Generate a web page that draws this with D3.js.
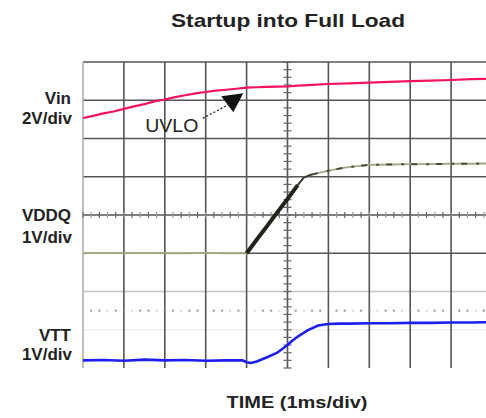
<!DOCTYPE html>
<html>
<head>
<meta charset="utf-8">
<script src="https://cdn.jsdelivr.net/npm/d3@7"></script>
<style>
  html, body { margin: 0; padding: 0; background: #fff; }
  svg { display: block; }
  text { font-family: "Liberation Sans", Arial, sans-serif; }
</style>
</head>
<body>
<div id="chart"></div>
<script>
// Time axis: 10 divisions, 1 ms/div
const timeDivs = 10;
const vertDivs = 8;

// Vin trace (V), 2 V/div
const vinTime = [0, 0.25, 0.5, 0.75, 1.0, 1.25, 1.5, 1.75, 2.0, 2.25, 2.5, 2.75, 3.0, 3.25, 3.5, 3.75, 4.0, 4.25, 4.5, 4.75, 5.0, 5.25, 5.5, 6.0, 6.5, 7.0, 7.5, 8.0, 8.5, 9.0, 9.5, 10.0];
const vinVolts = [9.07, 9.18, 9.31, 9.41, 9.55, 9.68, 9.8, 9.94, 10.04, 10.16, 10.26, 10.36, 10.43, 10.5, 10.55, 10.6, 10.66, 10.68, 10.7, 10.71, 10.72, 10.76, 10.79, 10.85, 10.88, 10.92, 10.96, 11.0, 11.03, 11.06, 11.1, 11.12];

// VDDQ trace (V), 1 V/div
const vddqTime = [0, 0.5, 1.0, 1.5, 2.0, 2.5, 3.0, 3.5, 4.0, 4.25, 4.5, 4.75, 5.0, 5.25, 5.4, 5.6, 5.85, 6.1, 6.4, 6.7, 7.0, 7.5, 8.0, 8.5, 9.0, 9.5, 10.0];
const vddqVolts = [0.0, 0.01, 0.0, 0.01, 0.0, 0.0, 0.01, 0.0, 0.0, 0.36, 0.71, 1.07, 1.42, 1.78, 1.98, 2.06, 2.12, 2.18, 2.24, 2.28, 2.31, 2.32, 2.33, 2.33, 2.34, 2.34, 2.35];

// VTT trace (V), 1 V/div
const vttTime = [0, 0.5, 1.0, 1.5, 2.0, 2.5, 3.0, 3.5, 3.9, 4.0, 4.1, 4.25, 4.5, 4.75, 5.0, 5.1, 5.25, 5.5, 5.75, 6.0, 6.25, 6.5, 7.0, 7.5, 8.0, 8.5, 9.0, 9.5, 10.0];
const vttVolts = [0.0, 0.01, -0.01, 0.02, 0.0, 0.01, -0.01, 0.0, 0.0, -0.05, -0.07, -0.03, 0.08, 0.2, 0.4, 0.5, 0.62, 0.79, 0.91, 0.95, 0.96, 0.96, 0.97, 0.97, 0.98, 0.98, 0.99, 0.99, 1.0];

// UVLO threshold crossing time (ms)
const uvloTime = 3.65;

// Channel labels
const channelNames = ["Vin", "VDDQ", "VTT"];
const channelScales = ["2V/div", "1V/div", "1V/div"];
const titleText = "Startup into Full Load";
const xAxisText = "TIME (1ms/div)";

// Channel settings: volts per division and ground level (in divisions from bottom)
const vinCh = { vPerDiv: 2, ground: 2 };
const vddqCh = { vPerDiv: 1, ground: 3 };
const vttCh = { vPerDiv: 1, ground: 0.2 };

const W = 486, H = 418;
const svg = d3.select("#chart").append("svg").attr("width", W).attr("height", H);

const x = d3.scaleLinear().domain([0, timeDivs]).range([83, 492]);
const yDiv = d3.scaleLinear().domain([0, vertDivs]).range([368, 62]);
const chY = ch => v => yDiv(ch.ground + v / ch.vPerDiv);

const plotRight = W;

// Grid
const grid = svg.append("g");
// horizontal division lines
const hLines = [
  { d: 8, c: "#555" }, { d: 7, c: "#555" }, { d: 6, c: "#555" }, { d: 5, c: "#555" },
  { d: 4, c: "#555" }, { d: 3, c: "#555" }, { d: 2, c: "#c4c4c4" }, { d: 1, c: "#eeeeee" }
];
grid.selectAll("line.h").data(hLines).join("line")
  .attr("x1", x(0)).attr("x2", plotRight)
  .attr("y1", d => yDiv(d.d)).attr("y2", d => yDiv(d.d))
  .attr("stroke", d => d.c).attr("stroke-width", 1.6);
// vertical division lines
grid.selectAll("line.v").data(d3.range(0, timeDivs + 1)).join("line")
  .attr("x1", d => x(d)).attr("x2", d => x(d))
  .attr("y1", yDiv(8)).attr("y2", yDiv(0))
  .attr("stroke", d => d === 0 ? "#b0b0b0" : "#555").attr("stroke-width", 1.6);

// minor ticks on centre vertical line
const minorV = d3.range(0, vertDivs * 5 + 1).map(i => i / 5);
grid.selectAll("line.mv").data(minorV).join("line")
  .attr("x1", x(5) - 4).attr("x2", x(5) + 4)
  .attr("y1", d => yDiv(d)).attr("y2", d => yDiv(d))
  .attr("stroke", "#666").attr("stroke-width", 1.2);
// minor ticks on centre horizontal line
const minorH = d3.range(0, timeDivs * 5 + 1).map(i => i / 5);
grid.selectAll("line.mh").data(minorH).join("line")
  .attr("x1", d => x(d)).attr("x2", d => x(d))
  .attr("y1", yDiv(4) - 3).attr("y2", yDiv(4) + 3)
  .attr("stroke", (d, i) => i % 2 ? "#999" : "#666").attr("stroke-width", 1.2);
// dotted reference row
grid.selectAll("circle.dot").data(minorH.filter(d => d > 0 && d < 9.9)).join("circle")
  .attr("cx", d => x(d)).attr("cy", yDiv(1.5)).attr("r", 1.2)
  .attr("fill", "#888").attr("opacity", (d, i) => (i % 3 === 2) ? 0.3 : 0.8);

const line = ch => d3.line().x(d => x(d[0])).y(d => chY(ch)(d[1]));

// Vin
const vinData = d3.zip(vinTime, vinVolts);
svg.append("path").datum(vinData)
  .attr("d", line(vinCh))
  .attr("fill", "none").attr("stroke", "#f5135c").attr("stroke-width", 2.2);

// VDDQ
const vddqData = d3.zip(vddqTime, vddqVolts);
svg.append("path").datum(vddqData)
  .attr("d", line(vddqCh))
  .attr("fill", "none").attr("stroke", "#a7a686").attr("stroke-width", 1.8);
svg.append("path").datum(vddqData.filter(d => d[0] >= 4 && d[0] <= 5.25))
  .attr("d", line(vddqCh))
  .attr("fill", "none").attr("stroke", "#23231a").attr("stroke-width", 4);
svg.append("path").datum(vddqData.filter(d => d[0] >= 5.25 && d[0] <= 5.6))
  .attr("d", line(vddqCh))
  .attr("fill", "none").attr("stroke", "#33332a").attr("stroke-width", 1.8);
svg.append("path").datum(vddqData.filter(d => d[0] >= 5.6))
  .attr("d", line(vddqCh))
  .attr("fill", "none").attr("stroke", "#4a4a38").attr("stroke-width", 2)
  .attr("stroke-dasharray", "6 9 3 7");

// VTT
const vttData = d3.zip(vttTime, vttVolts);
svg.append("path").datum(vttData)
  .attr("d", line(vttCh))
  .attr("fill", "none").attr("stroke", "#1e1ef2").attr("stroke-width", 2.6);

// UVLO marker
const uvloV = d3.scaleLinear().domain(vinTime).range(vinVolts)(uvloTime);
const ux = x(uvloTime), uy = chY(vinCh)(uvloV);
svg.append("path")
  .attr("d", `M${ux - 11},${uy + 7} L${ux + 11},${uy + 4} L${ux + 1},${uy + 23} Z`)
  .attr("fill", "#111");
svg.append("line")
  .attr("x1", ux - 3).attr("y1", uy + 15).attr("x2", ux - 31).attr("y2", uy + 30)
  .attr("stroke", "#222").attr("stroke-width", 1.3).attr("stroke-dasharray", "2 2");
svg.append("text").attr("x", ux - 87).attr("y", uy + 43)
  .attr("font-size", 18).attr("fill", "#222")
  .attr("textLength", 53).attr("lengthAdjust", "spacingAndGlyphs")
  .text("UVLO");

// Title and axis label
svg.append("text").attr("x", 288).attr("y", 27).attr("text-anchor", "middle")
  .attr("font-size", 19).attr("font-weight", "bold").attr("fill", "#222")
  .attr("textLength", 234).attr("lengthAdjust", "spacingAndGlyphs")
  .text(titleText);
svg.append("text").attr("x", 297).attr("y", 408).attr("text-anchor", "middle")
  .attr("font-size", 17).attr("font-weight", "bold").attr("fill", "#222")
  .attr("textLength", 141).attr("lengthAdjust", "spacingAndGlyphs")
  .text(xAxisText);

// Channel labels
const labelPos = [
  { name: 104, scale: 124, nw: 35 },
  { name: 221, scale: 243, nw: 39 },
  { name: 341, scale: 360, nw: 35 }
];
channelNames.forEach((n, i) => {
  svg.append("text").attr("x", 71).attr("y", labelPos[i].name).attr("text-anchor", "end")
    .attr("font-size", 17).attr("font-weight", "bold").attr("fill", "#222")
    .text(n);
  svg.append("text").attr("x", 72).attr("y", labelPos[i].scale).attr("text-anchor", "end")
    .attr("font-size", 17).attr("font-weight", "bold").attr("fill", "#222")
    .text(channelScales[i]);
});
</script>
</body>
</html>
